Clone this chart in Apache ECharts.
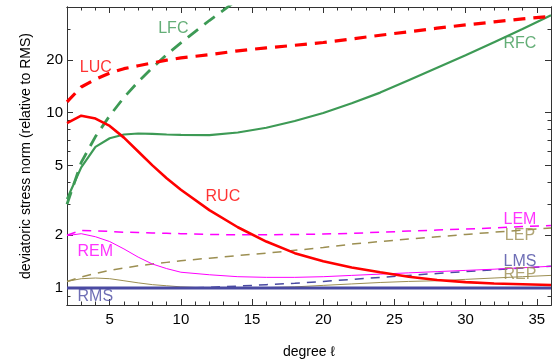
<!DOCTYPE html>
<html>
<head>
<meta charset="utf-8">
<script src="https://cdn.jsdelivr.net/npm/echarts@6/dist/echarts.min.js"></script>
<style>
  html, body { margin: 0; padding: 0; background: #fff; }
  #chart { width: 552px; height: 364px; }
</style>
</head>
<body>
<div id="chart"></div>
<script>
// degree values shared by every series
const degrees = [2, 3, 4, 5, 6, 7, 8, 9, 10, 12, 14, 16, 18, 20, 22, 24, 26, 28, 30, 32, 34, 36];

// stress norms relative to RMS
const luc = [11.5, 14.0, 15.5, 16.8, 17.8, 18.5, 19.2, 19.9, 20.5, 21.4, 22.5, 23.4, 24.2, 25.1, 26.3, 27.6, 28.9, 30.3, 31.6, 32.9, 34.2, 35.4];
const ruc = [8.7, 9.6, 9.25, 8.4, 7.2, 6.0, 5.0, 4.22, 3.63, 2.78, 2.22, 1.84, 1.58, 1.42, 1.31, 1.23, 1.16, 1.11, 1.08, 1.06, 1.05, 1.04];
const lfc = [3.0, 5.2, 7.3, 9.6, 12.2, 15.0, 18.0, 21.4, 25.0, 33.5, 44.0];
const rfc = [3.22, 4.87, 6.38, 7.14, 7.5, 7.6, 7.57, 7.5, 7.46, 7.44, 7.7, 8.2, 8.95, 9.95, 11.3, 13.0, 15.3, 18.0, 21.2, 25.2, 30.0, 35.9];
const lem = [2.0, 2.13, 2.12, 2.1, 2.08, 2.07, 2.06, 2.05, 2.04, 2.02, 2.01, 2.01, 2.02, 2.03, 2.05, 2.08, 2.11, 2.14, 2.17, 2.2, 2.24, 2.27];
const rem = [1.99, 2.04, 1.96, 1.84, 1.67, 1.5, 1.37, 1.29, 1.23, 1.19, 1.16, 1.15, 1.15, 1.16, 1.18, 1.2, 1.22, 1.24, 1.26, 1.28, 1.305, 1.33];
const lep = [1.09, 1.155, 1.21, 1.26, 1.3, 1.34, 1.37, 1.4, 1.43, 1.48, 1.53, 1.58, 1.64, 1.7, 1.78, 1.84, 1.9, 1.96, 2.02, 2.08, 2.14, 2.2];
const rep = [1.09, 1.13, 1.14, 1.13, 1.1, 1.07, 1.045, 1.03, 1.015, 1.0, 1.0, 1.005, 1.015, 1.035, 1.055, 1.075, 1.09, 1.1, 1.12, 1.14, 1.16, 1.18];
const lms = [1.0, 1.0, 1.0, 1.0, 1.0, 1.0, 1.0, 1.0, 1.0, 1.01, 1.025, 1.045, 1.065, 1.09, 1.12, 1.15, 1.18, 1.21, 1.24, 1.27, 1.3, 1.33];
const rms = [1, 1, 1, 1, 1, 1, 1, 1, 1, 1, 1, 1, 1, 1, 1, 1, 1, 1, 1, 1, 1, 1];

// curve labels: name, degree, value
const labelNames = ['LFC', 'LUC', 'RFC', 'RUC', 'LEM', 'LEP', 'LMS', 'REP', 'REM', 'RMS'];
const labelDegrees = [9.47, 4.02, 33.82, 12.95, 33.82, 33.82, 33.82, 33.82, 3.99, 3.99];
const labelValues = [30.1, 18.1, 24.6, 3.33, 2.45, 1.99, 1.42, 1.2, 1.62, 0.889];

// axis ticks
const xMajorTicks = [5, 10, 15, 20, 25, 30, 35];
const xMinorTicks = [3, 4, 6, 7, 8, 9, 11, 12, 13, 14, 16, 17, 18, 19, 21, 22, 23, 24, 26, 27, 28, 29, 31, 32, 33, 34];
const yMajorTicks = [1, 2, 5, 10, 20];
const yMinorTicks = [0.9, 3, 4, 6, 7, 8, 9, 30, 40];

const RED = '#ff0000';
const GREEN = '#3d9a55';
const MAGENTA = '#ff00ff';
const OLIVE = '#9c8f52';
const BLUE = '#4a4aa2';
const FRAME = '#333333';
const FONT = '"Liberation Sans", Arial, sans-serif';

const labelColors = {
  LFC: GREEN, LUC: RED, RFC: GREEN, RUC: RED, LEM: MAGENTA,
  LEP: OLIVE, LMS: BLUE, REP: OLIVE, REM: MAGENTA, RMS: BLUE
};

const pairs = (values) => values.map((v, i) => [degrees[i], v]);

const lineSeries = (name, values, color, width, dashed, z) => ({
  name,
  type: 'line',
  data: pairs(values),
  showSymbol: false,
  smooth: false,
  clip: true,
  z,
  lineStyle: {
    color,
    width,
    type: dashed ? dashed : 'solid',
    cap: 'butt'
  }
});

const xAxisDef = (position, ticks, len, labels) => ({
  type: 'value',
  position,
  min: 2,
  max: 36,
  axisLine: { show: true, onZero: false, lineStyle: { color: FRAME, width: 1 } },
  axisTick: { show: true, inside: true, length: len, customValues: ticks, lineStyle: { color: FRAME } },
  axisLabel: labels
    ? { show: true, customValues: ticks, color: '#000', fontSize: 15, fontFamily: FONT, margin: 7 }
    : { show: false },
  splitLine: { show: false }
});

const yAxisDef = (position, ticks, len, labels) => ({
  type: 'log',
  logBase: 10,
  position,
  min: 0.8,
  max: 40,
  axisLine: { show: true, onZero: false, lineStyle: { color: FRAME, width: 1 } },
  axisTick: { show: true, inside: true, length: len, customValues: ticks, lineStyle: { color: FRAME } },
  axisLabel: labels
    ? { show: true, customValues: ticks, color: '#000', fontSize: 15, fontFamily: FONT, margin: 4 }
    : { show: false },
  splitLine: { show: false },
  minorSplitLine: { show: false }
});

const chart = echarts.init(document.getElementById('chart'), null, { renderer: 'canvas' });

const xMain = xAxisDef('bottom', xMajorTicks, 6, true);
xMain.name = 'degree \u2113';
xMain.nameLocation = 'middle';
xMain.nameGap = 40;
xMain.nameTextStyle = { color: '#000', fontSize: 14, fontFamily: FONT };

const yMain = yAxisDef('left', yMajorTicks, 6, true);
yMain.name = 'deviatoric stress norm (relative to RMS)';
yMain.nameLocation = 'middle';
yMain.nameRotate = 90;
yMain.nameGap = 34;
yMain.nameTextStyle = { color: '#000', fontSize: 14, fontFamily: FONT };

chart.setOption({
  animation: false,
  backgroundColor: '#fff',
  grid: { left: 67, right: 1, top: 7, bottom: 58, containLabel: false },
  xAxis: [
    xMain,
    xAxisDef('bottom', xMinorTicks, 3.5, false),
    xAxisDef('top', xMajorTicks, 6, false),
    xAxisDef('top', xMinorTicks, 3.5, false)
  ],
  yAxis: [
    yMain,
    yAxisDef('left', yMinorTicks, 3.5, false),
    yAxisDef('right', yMajorTicks, 6, false),
    yAxisDef('right', yMinorTicks, 3.5, false)
  ],
  series: [
    lineSeries('REP', rep, OLIVE, 1, false, 2),
    lineSeries('LEP', lep, OLIVE, 1.5, [9, 7], 2),
    lineSeries('LMS', lms, BLUE, 1.5, [9, 7], 2),
    lineSeries('REM', rem, MAGENTA, 1, false, 2),
    lineSeries('LEM', lem, MAGENTA, 1.5, [9, 7], 2),
    lineSeries('RMS', rms, BLUE, 3, false, 3),
    lineSeries('RFC', rfc, GREEN, 2.2, false, 3),
    lineSeries('LFC', lfc, GREEN, 2.8, [13, 8], 3),
    lineSeries('RUC', ruc, RED, 2.6, false, 4),
    lineSeries('LUC', luc, RED, 3.2, [12, 8], 4),
    {
      name: 'labels',
      type: 'scatter',
      symbolSize: 0,
      z: 6,
      data: labelNames.map((n, i) => ({
        name: n,
        value: [labelDegrees[i], labelValues[i]],
        label: { color: labelColors[n] }
      })),
      label: {
        show: true,
        position: 'inside',
        formatter: (p) => p.name,
        fontSize: 16,
        fontFamily: FONT
      }
    }
  ]
});
</script>
</body>
</html>
